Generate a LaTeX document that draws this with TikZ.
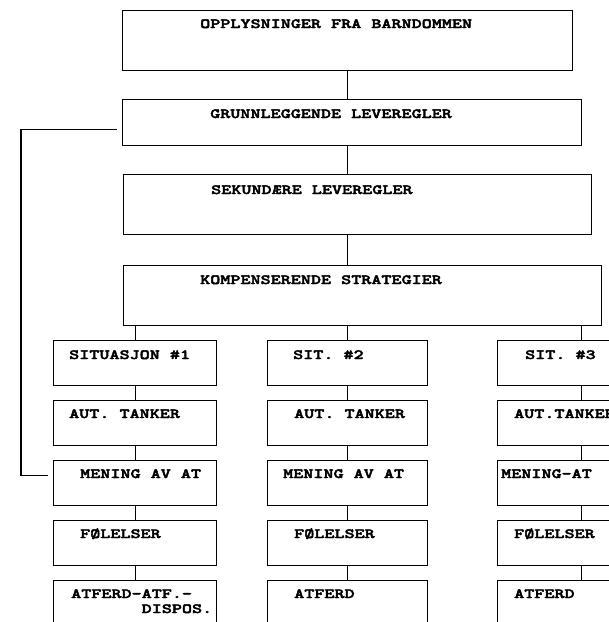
\documentclass[tikz,border=0pt]{standalone}
\usepackage{fontspec}
\newfontfamily\schemafont[FakeStretch=1.37, FakeBold=3]{lmmonolt10-bold.otf}

\begin{document}
\begin{tikzpicture}[
  x=1pt, y=-1pt,
  box/.style={draw, line width=1.3pt, anchor=north west, inner sep=0pt, minimum width=160pt, minimum height=45pt},
  big/.style={box, minimum height=60pt},
  txt/.style={anchor=base west, inner sep=0pt, font=\schemafont\fontsize{14}{15}\selectfont},
  line/.style={line width=1.1pt}
]
\useasboundingbox (0,0) rectangle (609,622);
\clip (0,0) rectangle (609,622);

% Main chain
\node[big, minimum width=450pt] (barn)  at (122,10)  {};
\node[box, minimum width=459pt, minimum height=46pt] (grunn) at (122,99) {};
\node[big, minimum width=468pt] (sek)   at (123,174) {};
\node[big, minimum width=478pt] (komp)  at (123,265) {};

\node[txt] (t-barn)  at ([xshift=78pt, yshift=-18pt]barn.north west)  {OPPLYSNINGER FRA BARNDOMMEN};
\node[txt] (t-grunn) at ([xshift=88pt, yshift=-19pt]grunn.north west) {GRUNNLEGGENDE LEVEREGLER};
\node[txt] (t-sek)   at ([xshift=88pt, yshift=-20pt]sek.north west)   {SEKUNDÆRE LEVEREGLER};
\node[txt] (t-komp)  at ([xshift=77pt, yshift=-19pt]komp.north west)  {KOMPENSERENDE STRATEGIER};

% Column 1
\node[box, minimum width=163pt] (sit1) at (53,340) {};
\node[box, minimum width=163pt] (aut1) at (53,400) {};
\node[box, minimum width=163pt] (men1) at (53,460) {};
\node[box, minimum width=163pt] (fol1) at (53,520) {};
\node[big, minimum width=163pt] (atf1) at (53,580) {};

\node[txt] (t-sit1) at ([xshift=16pt, yshift=-19pt]sit1.north west) {SITUASJON \#1};
\node[txt] (t-aut1) at ([xshift=16pt, yshift=-18pt]aut1.north west) {AUT. TANKER};
\node[txt] (t-men1) at ([xshift=27pt, yshift=-18pt]men1.north west) {MENING AV AT};
\node[txt] (t-fol1) at ([xshift=27pt, yshift=-18pt]fol1.north west) {FØLELSER};
\node[txt] (t-atf1) at ([xshift=18pt, yshift=-18pt]atf1.north west)
  {\begin{tabular}[t]{@{}l@{}}ATFERD-ATF.-\\\phantom{ATFERD-}DISPOS.\end{tabular}};

% Column 2
\node[box] (sit2) at (267,340) {};
\node[box] (aut2) at (267,400) {};
\node[box] (men2) at (267,460) {};
\node[box] (fol2) at (267,520) {};
\node[big] (atf2) at (267,580) {};

\node[txt] (t-sit2) at ([xshift=26pt, yshift=-19pt]sit2.north west) {SIT. \#2};
\node[txt] (t-aut2) at ([xshift=27pt, yshift=-18pt]aut2.north west) {AUT. TANKER};
\node[txt] (t-men2) at ([xshift=16pt, yshift=-18pt]men2.north west) {MENING AV AT};
\node[txt] (t-fol2) at ([xshift=27pt, yshift=-18pt]fol2.north west) {FØLELSER};
\node[txt] (t-atf2) at ([xshift=27pt, yshift=-18pt]atf2.north west) {ATFERD};

% Column 3 (runs off the page)
\node[box, minimum width=168pt] (sit3) at (497,340) {};
\node[box, minimum width=168pt] (aut3) at (497,400) {};
\node[box, minimum width=168pt] (men3) at (497,460) {};
\node[box, minimum width=168pt] (fol3) at (497,520) {};
\node[big, minimum width=168pt] (atf3) at (497,580) {};

\node[txt] (t-sit3) at ([xshift=28pt, yshift=-19pt]sit3.north west) {SIT. \#3};
\node[txt] (t-aut3) at ([xshift=17pt, yshift=-18pt]aut3.north west) {AUT.TANKER};
\node[txt] (t-men3) at ([xshift=4pt, yshift=-18pt]men3.north west)  {MENING-AT};
\node[txt] (t-fol3) at ([xshift=17pt, yshift=-18pt]fol3.north west) {FØLELSER};
\node[txt] (t-atf3) at ([xshift=17pt, yshift=-18pt]atf3.north west) {ATFERD};

% Connectors, main chain
\draw[line] (barn.south) -- (barn.south |- grunn.north);
\draw[line] (barn.south |- grunn.south) -- (barn.south |- sek.north);
\draw[line] (barn.south |- sek.south) -- (barn.south |- komp.north);

% Connectors down the columns
\foreach \c in {1,2,3} {
  \draw[line] (sit\c.north |- komp.south) -- (sit\c.north);
  \draw[line] (sit\c.south) -- (aut\c.north);
  \draw[line] (aut\c.south) -- (men\c.north);
  \draw[line] (men\c.south) -- (fol\c.north);
  \draw[line] (fol\c.south) -- (atf\c.north);
}

% Back line from the basic rules to the meaning
\draw[line, shorten <=5pt, shorten >=5pt] ([yshift=-7pt]grunn.west) -- ++(-101,0) |- ([yshift=7.5pt]men1.west);

\end{tikzpicture}
\end{document}
